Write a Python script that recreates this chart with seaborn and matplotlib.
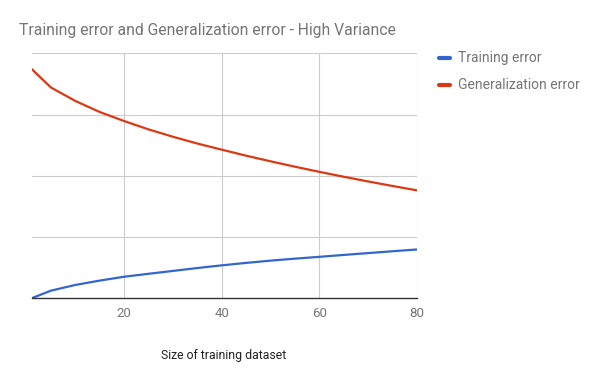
import matplotlib
matplotlib.use("Agg")
import matplotlib.pyplot as plt
import seaborn as sns
import pandas as pd

sizes = [1, 5, 10, 15, 20, 25, 30, 35, 40, 45, 50, 55, 60, 65, 70, 75, 80]
training_error = [0.0, 0.125, 0.218, 0.289, 0.352, 0.40, 0.447, 0.494, 0.538, 0.578,
                  0.615, 0.647, 0.677, 0.708, 0.738, 0.768, 0.797]
generalization_error = [3.748, 3.443, 3.223, 3.043, 2.895, 2.759, 2.639, 2.528, 2.428,
                        2.330, 2.238, 2.150, 2.066, 1.986, 1.909, 1.835, 1.764]
series_names = ["Training error", "Generalization error"]
series_colors = ["#3366cc", "#dc3912"]
x_ticks = [20, 40, 60, 80]
y_grid = [1, 2, 3, 4]

df = pd.DataFrame({
    "size": sizes * 2,
    "error": training_error + generalization_error,
    "series": [series_names[0]] * len(sizes) + [series_names[1]] * len(sizes),
})

sns.set_style("white")
plt.rcParams["font.family"] = ["Roboto", "DejaVu Sans"]

fig = plt.figure(figsize=(6, 3.71), dpi=100)
ax = fig.add_axes([0.0525, 0.196, 0.6420, 0.660])

sns.lineplot(data=df, x="size", y="error", hue="series", palette=series_colors,
             hue_order=series_names, linewidth=1.6, ax=ax, legend=False)

ax.set_xlim(1, 80)
ax.set_ylim(0, 4)
ax.set_xticks(x_ticks)
ax.set_yticks(y_grid)
ax.set_yticklabels([])
ax.grid(True, color="#cccccc", linewidth=0.8)
ax.set_axisbelow(True)
for s in ["top", "right", "left"]:
    ax.spines[s].set_visible(False)
ax.spines["bottom"].set_color("#333333")
ax.spines["bottom"].set_linewidth(1.0)
ax.spines["bottom"].set_zorder(3)
ax.tick_params(axis="both", length=0, labelsize=9.5, colors="#757575", pad=6)
ax.tick_params(axis="x", labelcolor="#757575")
ax.set_ylabel("")
ax.set_xlabel("Size of training dataset", fontsize=8.8, color="#222222", labelpad=21)

fig.text(19 / 600, 1 - 30 / 371, "Training error and Generalization error - High Variance",
         fontsize=11.3, color="#757575", va="center", ha="left")

for i, (name, col) in enumerate(zip(series_names, series_colors)):
    yc = 1 - (58 + 27 * i) / 371
    fig.lines.append(plt.Line2D([439 / 600, 450 / 600], [yc, yc], color=col,
                                linewidth=3.0, solid_capstyle="round",
                                transform=fig.transFigure))
    fig.text(458 / 600, yc, name, fontsize=10, color="#757575", va="center", ha="left")

fig.savefig("out.png", dpi=100)
